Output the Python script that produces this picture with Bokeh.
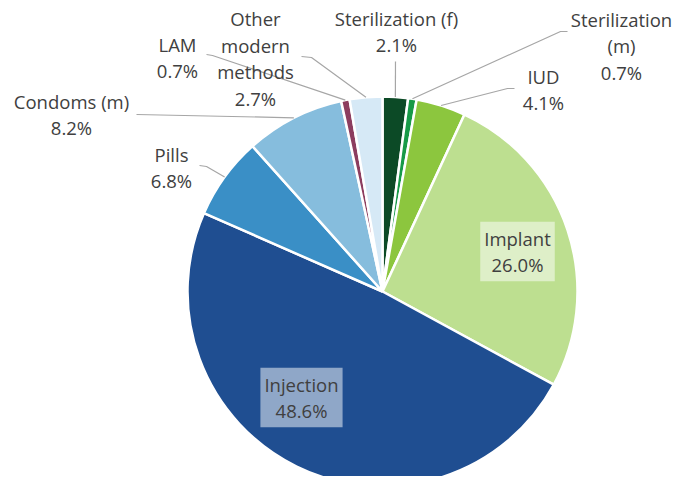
import math
from bokeh.plotting import figure
from bokeh.models import Range1d, Label, ColumnDataSource
from bokeh.embed import file_html
from bokeh.resources import INLINE

# ---- data ----
methods = ["Sterilization (f)", "Sterilization (m)", "IUD", "Implant", "Injection",
           "Pills", "Condoms (m)", "LAM", "Other modern methods"]
shares = [2.1, 0.7, 4.1, 26.0, 48.6, 6.8, 8.2, 0.7, 2.7]
label_texts = ["Sterilization (f)\n2.1%", "Sterilization\n(m)\n0.7%", "IUD\n4.1%",
               "Implant\n26.0%", "Injection\n48.6%", "Pills\n6.8%", "Condoms (m)\n8.2%",
               "LAM\n0.7%", "Other\nmodern\nmethods\n2.7%"]
colors = ["#0c4a26", "#179a47", "#8cc63e", "#bddf90", "#1f4e91",
          "#3a8fc6", "#86bddd", "#8c3d5f", "#d6e9f6"]

# ---- layout (page pixel coordinates, y downward) ----
H = 485
def Y(img_y):
    return H - img_y

CX, CY, R = 383, Y(292), 195
label_pos = [(397, 32), (622, 46), (544, 90), (518, 252), (302, 398),
             (172, 168), (72, 115), (178, 58), (256, 59)]
boxed = [False, False, False, True, True, False, False, False, False]
leader_pts = [[(396, 62)], [(568, 32), (561, 32)], [(515, 89), (508, 89)], None, None,
              [(200, 166), (207, 167)], [(137, 115)], [(207, 55), (213, 56)],
              [(302, 57), (312, 58)]]

total = sum(shares)
starts, ends, mids = [], [], []
cum = 0.0
for s in shares:
    a0 = math.pi / 2 - 2 * math.pi * cum / total
    cum += s
    a1 = math.pi / 2 - 2 * math.pi * cum / total
    starts.append(a0)
    ends.append(a1)
    mids.append((a0 + a1) / 2)

W_FIG, H_FIG = 677, 476
X0 = 1
Y_TOP = H - 1
p = figure(width=W_FIG, height=H_FIG, x_range=Range1d(X0, X0 + W_FIG),
           y_range=Range1d(Y_TOP - H_FIG, Y_TOP),
           output_backend="svg", toolbar_location=None, min_border=0,
           x_axis_location=None, y_axis_location=None)
p.grid.visible = False
p.outline_line_color = None
p.background_fill_color = "white"

src = ColumnDataSource(dict(start=starts, end=ends, color=colors, method=methods))
p.wedge(x=CX, y=CY, radius=R, start_angle="start", end_angle="end", direction="clock",
        fill_color="color", line_color="white", line_width=2.5, source=src)

# leader lines
xs, ys = [], []
for pts, m in zip(leader_pts, mids):
    if pts is None:
        continue
    px = [q[0] for q in pts] + [CX + R * math.cos(m)]
    py = [Y(q[1]) for q in pts] + [CY + R * math.sin(m)]
    xs.append(px)
    ys.append(py)
p.multi_line(xs=xs, ys=ys, line_color="#a6a6a6", line_width=1.2)

# labels
for txt, (lx, ly), bx in zip(label_texts, label_pos, boxed):
    kw = {}
    if bx:
        kw = dict(background_fill_color="white", background_fill_alpha=0.5, padding=4)
    lab = Label(x=lx, y=Y(ly), text=txt, text_align="center", text_baseline="middle",
                text_font="Open Sans", text_font_size="18.5px", text_color="#404040",
                text_line_height=1.06, **kw)
    p.add_layout(lab)

open("out.html", "w").write(file_html(p, INLINE))
